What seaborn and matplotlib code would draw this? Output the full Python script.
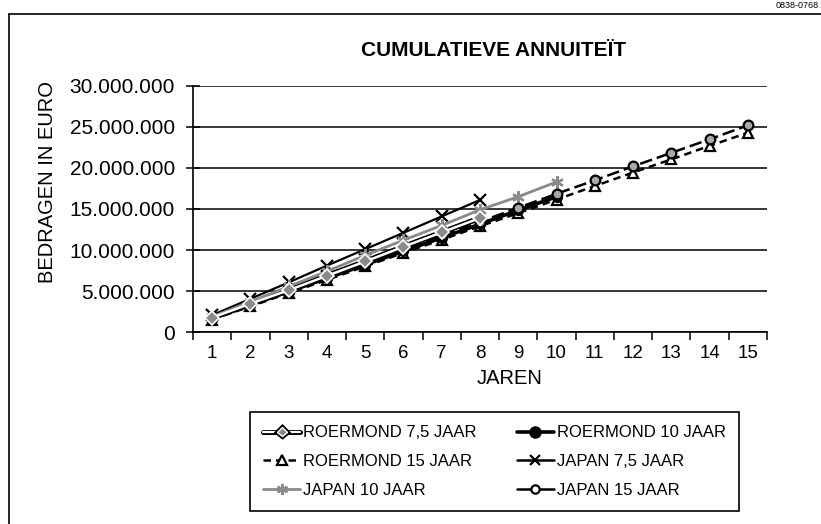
import numpy as np
import pandas as pd
import matplotlib
matplotlib.use("Agg")
import matplotlib.pyplot as plt
from matplotlib.lines import Line2D
import matplotlib.patheffects as pe
from matplotlib.ticker import FuncFormatter
import seaborn as sns

sns.set_theme(style="white")
plt.rcParams["font.family"] = ["Liberation Sans", "DejaVu Sans"]

# Cumulative annuity per year, in millions of euro
years = list(range(1, 16))
roermond_75 = [1.75, 3.45, 5.10, 6.85, 8.60, 10.40, 12.15, 13.90]
roermond_10 = [1.62, 3.28, 4.92, 6.55, 8.20, 9.85, 11.50, 13.15, 14.85, 16.50]
roermond_15 = [1.52, 3.12, 4.75, 6.35, 8.00, 9.65, 11.25, 12.90, 14.50, 16.15, 17.80, 19.45, 21.05, 22.70, 24.30]
japan_75 = [2.05, 4.05, 6.05, 8.10, 10.10, 12.10, 14.10, 16.10]
japan_10 = [1.85, 3.70, 5.55, 7.40, 9.35, 11.20, 13.00, 14.90, 16.50, 18.30]
japan_15 = [1.70, 3.40, 5.05, 6.75, 8.45, 10.10, 11.80, 13.45, 15.15, 16.85, 18.50, 20.20, 21.85, 23.50, 25.20]

labels = ["ROERMOND 7,5 JAAR", "ROERMOND 10 JAAR", "ROERMOND 15 JAAR",
          "JAPAN 7,5 JAAR", "JAPAN 10 JAAR", "JAPAN 15 JAAR"]
ytick_vals = [0, 5e6, 10e6, 15e6, 20e6, 25e6, 30e6]

def frame(vals):
    return pd.DataFrame({"jaar": years[:len(vals)], "bedrag": np.array(vals) * 1e6})

fig = plt.figure(figsize=(8.21, 5.24), dpi=100)
ax = fig.add_axes([0.2351, 0.3664, 0.6991, 0.4695])

GRAY = "#8a8a8a"

# ROERMOND 7,5: double line (black outline, white core) with gray diamonds
d = frame(roermond_75)
sns.lineplot(data=d, x="jaar", y="bedrag", ax=ax, color="black", linewidth=4.0, zorder=5)
sns.lineplot(data=d, x="jaar", y="bedrag", ax=ax, color="white", linewidth=1.8,
             marker="D", markersize=7, markerfacecolor=GRAY,
             markeredgecolor="white", markeredgewidth=1.2, zorder=9)

# ROERMOND 10: heavy black line with filled circles
sns.lineplot(data=frame(roermond_10), x="jaar", y="bedrag", ax=ax, color="black",
             linewidth=2.6, marker="o", markersize=7, markerfacecolor="black",
             markeredgecolor="black", markeredgewidth=1.0, zorder=4)

# ROERMOND 15: dashed line with open triangles
sns.lineplot(data=frame(roermond_15), x="jaar", y="bedrag", ax=ax, color="black",
             linewidth=1.8, linestyle=(0, (3, 2)), marker="^", markersize=7,
             markerfacecolor="white", markeredgecolor="black", markeredgewidth=1.6, zorder=3)

# JAPAN 7,5: black line with crosses
sns.lineplot(data=frame(japan_75), x="jaar", y="bedrag", ax=ax, color="black",
             linewidth=1.6, marker="x", markersize=8, markeredgecolor="black",
             markeredgewidth=1.6, zorder=6)

# JAPAN 10: gray line with asterisks
sns.lineplot(data=frame(japan_10), x="jaar", y="bedrag", ax=ax, color=GRAY,
             linewidth=2.0, marker=(6, 2, 0), markersize=9, markeredgecolor=GRAY,
             markeredgewidth=1.6, zorder=7)

# JAPAN 15: black line with small round markers
sns.lineplot(data=frame(japan_15), x="jaar", y="bedrag", ax=ax, color="black",
             linewidth=1.8, linestyle=(0, (5, 2)), marker="o", markersize=7,
             markerfacecolor="#a8a8a8", markeredgecolor="black",
             markeredgewidth=1.6, zorder=8)

# axes
ax.set_xlim(0.5, 15.5)
ax.set_ylim(0, 30e6)
ax.set_xticks(years)
ax.set_xticks(np.arange(0.5, 15.6, 1.0), minor=True)
ax.set_yticks(ytick_vals)
ax.yaxis.set_major_formatter(FuncFormatter(lambda v, p: f"{v:,.0f}".replace(",", ".")))
ax.tick_params(axis="x", which="major", bottom=True, length=0, pad=9, labelsize=13.5,
               labelcolor="black")
ax.tick_params(axis="x", which="minor", bottom=True, direction="out", length=6, width=1.1,
               color="black")
ax.tick_params(axis="y", which="major", left=True, direction="inout", length=10, width=1.1,
               color="black", pad=8, labelsize=15, labelcolor="black")
ax.grid(False)
ax.yaxis.grid(True, color="black", linewidth=1.1)
ax.set_axisbelow(True)
for s in ("top", "right"):
    ax.spines[s].set_visible(False)
for s in ("left", "bottom"):
    ax.spines[s].set_color("black")
    ax.spines[s].set_linewidth(1.2)

ax.set_xlabel("JAREN", fontsize=14.5, color="black")
ax.xaxis.set_label_coords(0.552, -0.187)
ax.xaxis.label.set_verticalalignment("center")
ax.set_ylabel("BEDRAGEN IN EURO", fontsize=14.5, color="black")
ax.yaxis.set_label_coords(-0.254, 0.61)
ax.yaxis.label.set_verticalalignment("center")
fig.text(494 / 821, 1 - 51 / 524, "CUMULATIEVE ANNUITEÏT", ha="center", va="center",
         fontsize=15, fontweight="bold", color="black")

# legend, laid out row by row
h_r75 = Line2D([], [], color="white", linewidth=1.6, marker="D", markersize=5,
               markerfacecolor=GRAY, markeredgecolor="white", markeredgewidth=1.0,
               path_effects=[pe.Stroke(linewidth=3.6, foreground="black"), pe.Normal()])
h_r10 = Line2D([], [], color="black", linewidth=2.6, marker="o", markersize=8,
               markerfacecolor="black", markeredgecolor="black")
h_r15 = Line2D([], [], color="black", linewidth=1.8, linestyle=(0, (3, 2)), marker="^",
               markersize=7, markerfacecolor="white", markeredgecolor="black", markeredgewidth=1.6)
h_j75 = Line2D([], [], color="black", linewidth=1.8, marker="x", markersize=7,
               markeredgecolor="black", markeredgewidth=1.6)
h_j10 = Line2D([], [], color=GRAY, linewidth=2.0, marker=(6, 2, 0), markersize=8,
               markeredgecolor=GRAY, markeredgewidth=1.6)
h_j15 = Line2D([], [], color="black", linewidth=1.8, marker="o", markersize=6,
               markerfacecolor="white", markeredgecolor="black", markeredgewidth=1.6)
handles = [h_r75, h_r15, h_j10, h_r10, h_j75, h_j15]
leg_labels = [labels[0], labels[2], labels[4], labels[1], labels[3], labels[5]]
leg = fig.legend(handles, leg_labels, ncol=2, loc="upper left",
                 bbox_to_anchor=(250 / 821, 1 - 412 / 524), bbox_transform=fig.transFigure,
                 borderaxespad=0, fontsize=12, frameon=True, fancybox=False,
                 edgecolor="black", framealpha=1, handlelength=2.2, handletextpad=0.2,
                 columnspacing=2.4, labelspacing=0.83, borderpad=0.8)
leg.get_frame().set_linewidth(1.2)
for t in leg.get_texts():
    t.set_color("black")

# outer frame lines and reference code
fig.add_artist(Line2D([9 / 821, 1], [1 - 14 / 524] * 2, color="black", linewidth=1.2,
                      transform=fig.transFigure))
fig.add_artist(Line2D([9 / 821] * 2, [0, 1 - 14 / 524], color="black", linewidth=1.2,
                      transform=fig.transFigure))
fig.text(819 / 821, 1 - 6 / 524, "0838-0768", ha="right", va="center", fontsize=6.5,
         color="black")

fig.savefig("out.png", dpi=100, facecolor="white")
